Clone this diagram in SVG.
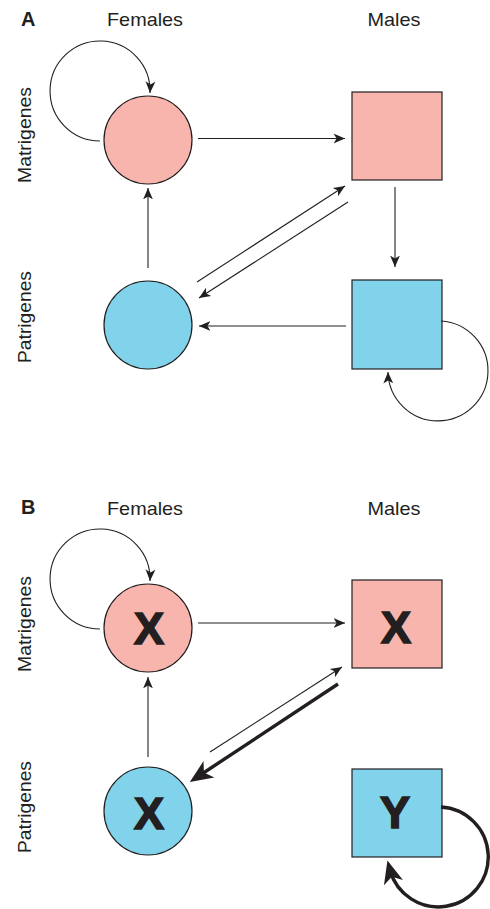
<svg xmlns="http://www.w3.org/2000/svg" width="490" height="909" viewBox="0 0 490 909">
<style>
text{font-family:"Liberation Sans",Arial,Helvetica,sans-serif;fill:#231F20}
.hdr{font-size:19px;text-anchor:middle}
.panel{font-size:20px;font-weight:bold}
.big{font-size:45px;font-weight:bold;text-anchor:middle;stroke:#231F20;stroke-width:1.6;stroke-linejoin:miter}
.pink{fill:#F8B5AD;stroke:#231F20;stroke-width:1.2}
.blue{fill:#80D3EA;stroke:#231F20;stroke-width:1.2}
.ln{fill:none;stroke:#231F20;stroke-width:1.1;marker-end:url(#ah)}
.thick{fill:none;stroke:#231F20;stroke-width:3.4;marker-end:url(#ahb)}
</style>
<defs>
<marker id="ah" markerUnits="userSpaceOnUse" markerWidth="12" markerHeight="12" viewBox="0 0 11 10" refX="10.5" refY="5" orient="auto">
<path d="M0,0.5 L10.5,5 L0,9.5 L2.8,5 z" fill="#231F20"/>
</marker>
<marker id="ahb" markerUnits="userSpaceOnUse" markerWidth="24" markerHeight="24" viewBox="0 0 22 20" refX="12" refY="10" orient="auto">
<path d="M0,1 L21,10 L0,19 L5.5,10 z" fill="#231F20"/>
</marker>
</defs>

<g id="labels">
<text class="panel" x="21" y="26">A</text>
<text class="hdr" x="145" y="26" textLength="76" lengthAdjust="spacingAndGlyphs">Females</text>
<text class="hdr" x="394" y="26" textLength="53" lengthAdjust="spacingAndGlyphs">Males</text>
<text class="hdr" transform="translate(31,135) rotate(-90)" textLength="96" lengthAdjust="spacingAndGlyphs">Matrigenes</text>
<text class="hdr" transform="translate(31,317) rotate(-90)" textLength="92" lengthAdjust="spacingAndGlyphs">Patrigenes</text>
<text class="panel" x="21" y="514">B</text>
<text class="hdr" x="145" y="515" textLength="76" lengthAdjust="spacingAndGlyphs">Females</text>
<text class="hdr" x="394" y="515" textLength="53" lengthAdjust="spacingAndGlyphs">Males</text>
<text class="hdr" transform="translate(31,624) rotate(-90)" textLength="96" lengthAdjust="spacingAndGlyphs">Matrigenes</text>
<text class="hdr" transform="translate(31,807) rotate(-90)" textLength="92" lengthAdjust="spacingAndGlyphs">Patrigenes</text>
</g>

<g id="A-female-matri"><circle class="pink" cx="148" cy="140" r="44"/></g>
<g id="A-male-matri"><rect class="pink" x="352" y="92" width="90" height="88"/></g>
<g id="A-female-patri"><circle class="blue" cx="148" cy="325" r="44"/></g>
<g id="A-male-patri"><rect class="blue" x="352" y="280" width="90" height="89"/></g>

<g id="B-female-matri"><circle class="pink" cx="148" cy="628" r="44"/><text class="big" x="149" y="644">X</text></g>
<g id="B-male-matri"><rect class="pink" x="352" y="580" width="90" height="88"/><text class="big" x="396" y="643">X</text></g>
<g id="B-female-patri"><circle class="blue" cx="148" cy="811" r="44"/><text class="big" x="149" y="829">X</text></g>
<g id="B-male-patri"><rect class="blue" x="352" y="769" width="90" height="88"/><text class="big" x="395" y="828">Y</text></g>

<g id="connectors">
<path class="ln" d="M100,141 A50,50 0 1 1 150,93"/>
<path class="ln" d="M198,138.5 L345,138.5"/>
<path class="ln" d="M395,187 L395,267"/>
<path class="ln" d="M346,326 L199,326"/>
<path class="ln" d="M148,268 L148,188"/>
<path class="ln" d="M197,282 L345,186"/>
<path class="ln" d="M348,202 L199,298"/>
<path class="ln" d="M441,321 A50,50 0 1 1 388,372"/>

<path class="ln" d="M100,629 A50,50 0 1 1 150,581"/>
<path class="ln" d="M198,623 L345,623"/>
<path class="ln" d="M148,757 L148,677"/>
<path class="ln" d="M210,752 L342,667"/>
<path class="thick" d="M338,684 L198,776.5"/>
<path class="thick" d="M441,807 A50,50 0 1 1 390,870"/>
</g>
</svg>
